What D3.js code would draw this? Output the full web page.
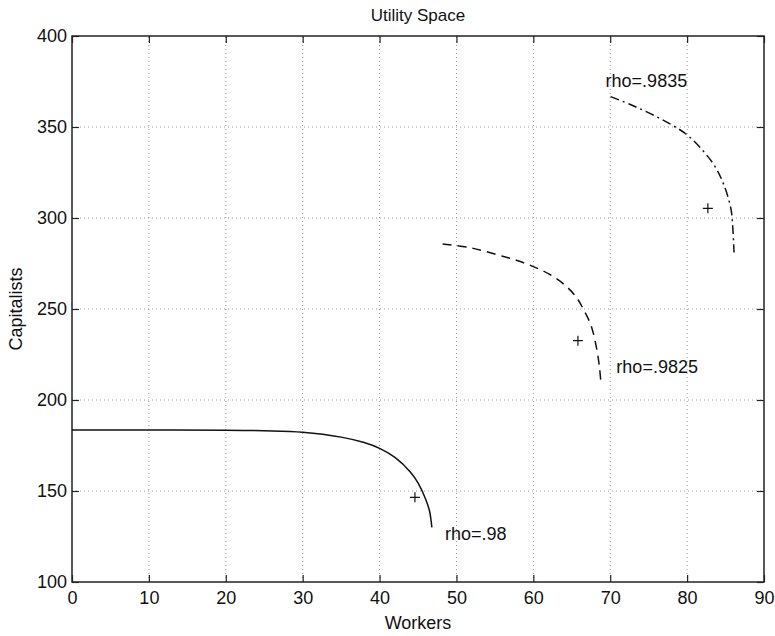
<!DOCTYPE html>
<head>
    <script src="https://d3js.org/d3.v7.min.js"></script>
    <style>
        body { margin: 0; background: #fff; }
        text { font-family: "Liberation Sans", Arial, sans-serif; fill: #111; }
    </style>
</head>
<body>
    <div id="chart"></div>
</body>
<script>
    // frontier rho=.98 (solid)
    const solidX = [0, 10, 20, 25, 30, 35, 38, 40, 42, 44, 45, 46, 46.5, 46.8];
    const solidY = [183.5, 183.5, 183.4, 183.1, 182.3, 179.6, 176.6, 173.4, 168.5, 160.5, 154.5, 145.5, 139, 130];
    // rho=.9825 (dashed)
    const dashX = [48.2, 52, 56, 58, 60, 62, 64, 65.5, 66.5, 67.5, 68.2, 68.6, 68.8];
    const dashY = [285.7, 283.5, 279, 276.5, 273.3, 269.3, 263.5, 257, 250, 241, 229, 218, 209];
    // rho=.9835 (dash-dot)
    const ddX = [70.05, 72.7, 75.3, 77.9, 79.9, 81.8, 83.6, 84.8, 85.7, 85.95, 86.1];
    const ddY = [366.7, 362.2, 357.2, 351.4, 346, 338.2, 328.5, 318, 305, 294, 281];
    // plus markers
    const plusX = [44.6, 65.8, 82.7];
    const plusY = [146.5, 232.6, 305.3];
    const labels = ["rho=.98", "rho=.9825", "rho=.9835"];
    const labelX = [48.5, 70.8, 69.4];
    const labelY = [123, 215, 372];

    const xTicks = d3.range(0, 91, 10);
    const yTicks = d3.range(100, 401, 50);

    const width = 775, height = 636;
    const margin = {left: 72, right: 11, top: 36, bottom: 54};

    const x = d3.scaleLinear().domain([0, 90]).range([margin.left, width - margin.right]);
    const y = d3.scaleLinear().domain([100, 400]).range([height - margin.bottom, margin.top]);

    const svg = d3.select("#chart").append("svg")
        .attr("width", width)
        .attr("height", height);

    // grid
    svg.append("g").selectAll("line.gx").data(xTicks.slice(1, -1))
        .join("line")
        .attr("x1", d => x(d)).attr("x2", d => x(d))
        .attr("y1", y(100)).attr("y2", y(400))
        .attr("stroke", "#999").attr("stroke-dasharray", "1,3");
    svg.append("g").selectAll("line.gy").data(yTicks.slice(1, -1))
        .join("line")
        .attr("x1", x(0)).attr("x2", x(90))
        .attr("y1", d => y(d)).attr("y2", d => y(d))
        .attr("stroke", "#999").attr("stroke-dasharray", "1,3");

    // axes (ticks inward)
    svg.append("g").attr("transform", `translate(0,${y(100)})`)
        .call(d3.axisBottom(x).tickValues(xTicks).tickSize(-7).tickPadding(9).tickFormat(d3.format("d")))
        .call(g => g.select(".domain").remove());
    svg.append("g").attr("transform", `translate(0,${y(400)})`)
        .call(d3.axisTop(x).tickValues(xTicks).tickSize(-7).tickFormat(""))
        .call(g => g.select(".domain").remove());
    svg.append("g").attr("transform", `translate(${x(0)},0)`)
        .call(d3.axisLeft(y).tickValues(yTicks).tickSize(-7).tickPadding(5).tickFormat(d3.format("d")))
        .call(g => g.select(".domain").remove());
    svg.append("g").attr("transform", `translate(${x(90)},0)`)
        .call(d3.axisRight(y).tickValues(yTicks).tickSize(-7).tickFormat(""))
        .call(g => g.select(".domain").remove());

    svg.selectAll(".tick text").style("font-size", "18px").attr("fill", "#111");
    svg.selectAll(".tick line").attr("stroke", "#222").attr("stroke-width", 1.2);

    svg.append("rect")
        .attr("x", x(0)).attr("y", y(400))
        .attr("width", x(90) - x(0)).attr("height", y(100) - y(400))
        .attr("fill", "none").attr("stroke", "#222").attr("stroke-width", 1.5);

    const lineY = d3.line().x(d => x(d[0])).y(d => y(d[1])).curve(d3.curveCatmullRom);

    svg.append("path").datum(d3.zip(solidX, solidY)).attr("d", lineY)
        .attr("fill", "none").attr("stroke", "#111").attr("stroke-width", 1.5);
    svg.append("path").datum(d3.zip(dashX, dashY)).attr("d", lineY)
        .attr("fill", "none").attr("stroke", "#111").attr("stroke-width", 1.5)
        .attr("stroke-dasharray", "9,6");
    svg.append("path").datum(d3.zip(ddX, ddY)).attr("d", lineY)
        .attr("fill", "none").attr("stroke", "#111").attr("stroke-width", 1.5)
        .attr("stroke-dasharray", "9,4,2,4");

    // markers
    svg.append("g").selectAll("path.plus").data(d3.zip(plusX, plusY))
        .join("path")
        .attr("d", d => `M${x(d[0]) - 5},${y(d[1])}h10M${x(d[0])},${y(d[1]) - 5}v10`)
        .attr("stroke", "#111").attr("stroke-width", 1.2);

    svg.append("g").selectAll("text.lab").data(labels)
        .join("text")
        .attr("x", (d, i) => x(labelX[i]))
        .attr("y", (d, i) => y(labelY[i]))
        .style("font-size", "18px")
        .text(d => d);

    svg.append("text").attr("x", (x(0) + x(90)) / 2).attr("y", 21)
        .attr("text-anchor", "middle").style("font-size", "17px").text("Utility Space");
    svg.append("text").attr("x", (x(0) + x(90)) / 2).attr("y", 629)
        .attr("text-anchor", "middle").style("font-size", "18px").text("Workers");
    svg.append("text")
        .attr("transform", `translate(22,${(y(100) + y(400)) / 2}) rotate(-90)`)
        .attr("text-anchor", "middle").style("font-size", "18px").text("Capitalists");
</script>
</html>
